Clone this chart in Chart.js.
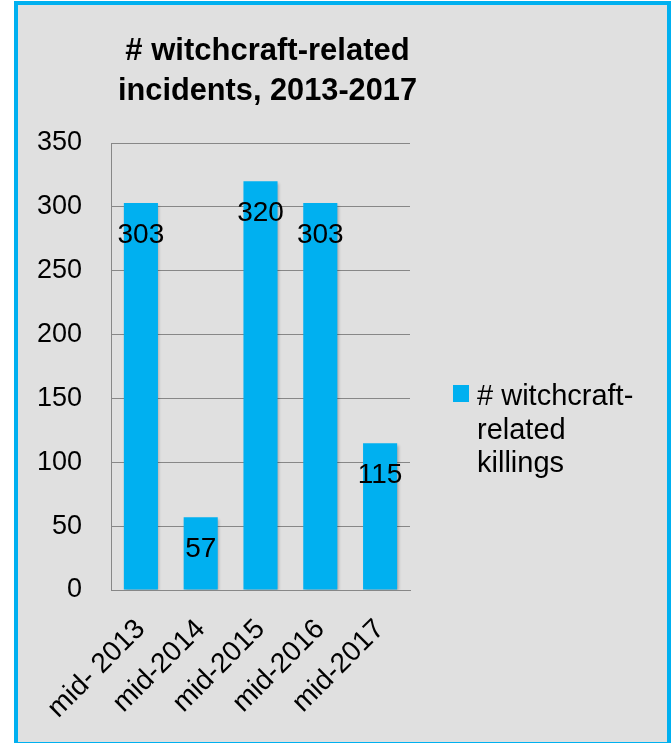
<!DOCTYPE html>
<html>
<head>
<meta charset="utf-8">
<script src="https://cdn.jsdelivr.net/npm/chart.js@4"></script>
<style>
    html, body { margin: 0; padding: 0; background: #ffffff; overflow: hidden; }
    #frame {
        position: absolute; left: 14px; top: 1px; width: 657px; height: 745px;
        box-sizing: border-box; border: 4px solid #00b0f0; background: #e0e0e0;
    }
    #wrap { position: absolute; left: 0; top: 0; width: 671px; height: 743px; }
</style>
</head>
<body>
<div id="frame"></div>
<div id="wrap"><canvas id="chart" width="671" height="743"></canvas></div>
<script>
const categories = ['mid- 2013', 'mid-2014', 'mid-2015', 'mid-2016', 'mid-2017'];
const killings = [303, 57, 320, 303, 115];
const yTicks = [0, 50, 100, 150, 200, 250, 300, 350];
const titleLines = ['# witchcraft-related', 'incidents, 2013-2017'];
const legendLines = ['# witchcraft-', 'related', 'killings'];

const BAR_COLOR = '#00b0f0';
const GRID_COLOR = '#878787';
const FONT = '"Liberation Sans", Arial, sans-serif';

// the original title sits a little right of the plot centre
const titleNudge = {
    id: 'titleNudge',
    afterLayout(chart) {
        if (chart.titleBlock) {
            chart.titleBlock.left += 7;
            chart.titleBlock.right += 7;
        }
    }
};

// soft shadow under the bars, like the original
const barShadow = {
    id: 'barShadow',
    beforeDatasetsDraw(chart) {
        const ctx = chart.ctx;
        ctx.save();
        ctx.shadowColor = 'rgba(0,0,0,0.28)';
        ctx.shadowBlur = 3;
        ctx.shadowOffsetX = 1.5;
        ctx.shadowOffsetY = 1.5;
    },
    afterDatasetsDraw(chart) {
        chart.ctx.restore();
    }
};

// value labels just inside the top of each bar
const valueLabels = {
    id: 'valueLabels',
    afterDatasetsDraw(chart) {
        const ctx = chart.ctx;
        const meta = chart.getDatasetMeta(0);
        ctx.save();
        ctx.font = '28px ' + FONT;
        ctx.fillStyle = '#000';
        ctx.textAlign = 'center';
        ctx.textBaseline = 'middle';
        meta.data.forEach((bar, i) => {
            ctx.fillText(String(chart.data.datasets[0].data[i]), bar.x, bar.y + 32);
        });
        ctx.restore();
    }
};

// legend on the right, wrapped over three lines
const sideLegend = {
    id: 'sideLegend',
    afterDraw(chart) {
        const ctx = chart.ctx;
        const area = chart.chartArea;
        const x = area.right + 43;
        const y = area.top + 242;
        ctx.save();
        ctx.fillStyle = chart.data.datasets[0].backgroundColor;
        ctx.fillRect(x, y, 16, 17);
        ctx.fillStyle = '#000';
        ctx.font = '29px ' + FONT;
        ctx.textAlign = 'left';
        ctx.textBaseline = 'alphabetic';
        legendLines.forEach((line, i) => {
            ctx.fillText(line, x + 24, y + 20 + i * 33.5);
        });
        ctx.restore();
    }
};

new Chart(document.getElementById('chart'), {
    type: 'bar',
    data: {
        labels: categories,
        datasets: [{
            label: legendLines.join(' '),
            data: killings,
            backgroundColor: BAR_COLOR,
            borderWidth: 0,
            categoryPercentage: 1,
            barPercentage: 0.57
        }]
    },
    options: {
        responsive: false,
        animation: false,
        devicePixelRatio: 1,
        layout: { padding: { left: 30, right: 261, top: 0, bottom: 0 } },
        plugins: {
            legend: { display: false },
            tooltip: { enabled: false },
            title: {
                display: true,
                text: titleLines,
                fullSize: false,
                color: '#000',
                font: { family: FONT, size: 31, weight: 'bold', lineHeight: 1.3 },
                padding: { top: 31, bottom: 31.4 }
            }
        },
        scales: {
            x: {
                grid: { display: false },
                border: { display: true, color: GRID_COLOR, width: 1 },
                ticks: {
                    color: '#000',
                    font: { family: FONT, size: 28 },
                    minRotation: 45,
                    maxRotation: 45,
                    padding: 15,
                    autoSkip: false
                },
                afterFit: scale => { scale.height = 153; }
            },
            y: {
                min: 0,
                max: 350,
                grid: { color: GRID_COLOR, lineWidth: 1, drawTicks: false },
                border: { display: true, color: GRID_COLOR, width: 1 },
                ticks: {
                    color: '#000',
                    font: { family: FONT, size: 27 },
                    padding: 29,
                    stepSize: 50
                },
                afterBuildTicks: scale => { scale.ticks = yTicks.map(v => ({ value: v })); },
                afterFit: scale => { scale.width = 81; }
            }
        }
    },
    plugins: [titleNudge, barShadow, valueLabels, sideLegend]
});
</script>
</body>
</html>
